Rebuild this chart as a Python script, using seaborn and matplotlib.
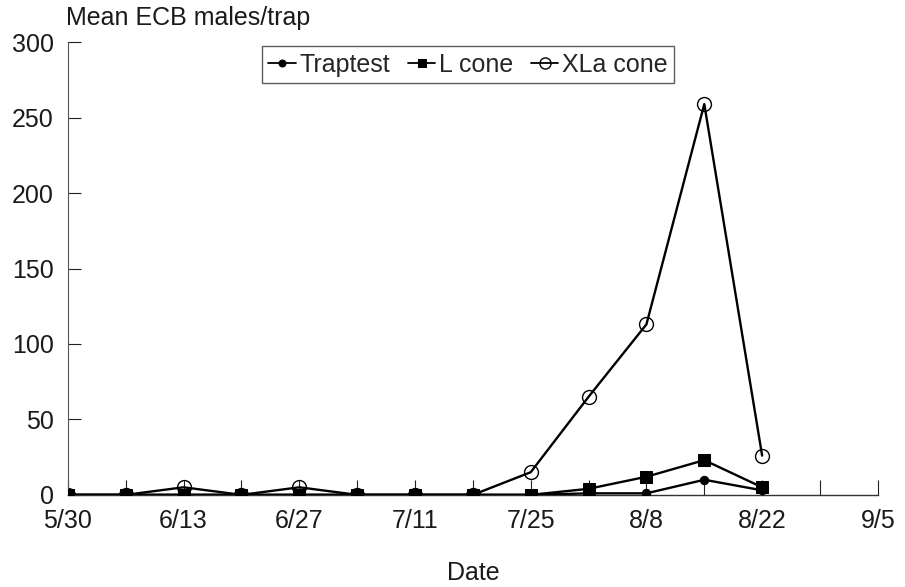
import matplotlib
matplotlib.use("Agg")
import matplotlib.pyplot as plt
import seaborn as sns
import pandas as pd

# ── Data ──
dates = ["5/30", "6/6", "6/13", "6/20", "6/27", "7/4", "7/11",
         "7/18", "7/25", "8/1", "8/8", "8/15", "8/22"]
traptest = [0, 0, 0, 0, 0, 0, 0, 0, 0, 1, 1, 10, 3]
l_cone   = [0, 0, 0, 0, 0, 0, 0, 0, 0, 4, 12, 23, 5]
xla_cone = [0, 0, 5, 0, 5, 0, 0, 0, 15, 65, 113, 259, 26]
tick_labels = ["5/30", "6/13", "6/27", "7/11", "7/25", "8/8", "8/22", "9/5"]
minor_extra = ["8/29", "9/5"]

to_dt = lambda s: pd.Timestamp(f"1990/{s}")
x = [to_dt(d) for d in dates]

sns.set_theme(style="ticks")
plt.rcParams["font.family"] = ["Liberation Sans", "DejaVu Sans"]

FS = 18
fig = plt.figure(figsize=(9.05, 5.87), dpi=100)
ax = fig.add_axes([0.075, 0.157, 0.895, 0.771])

lw = 1.7
sns.lineplot(x=x, y=traptest, ax=ax, color="black", lw=lw, marker="o",
             markersize=6, markeredgecolor="black", label="Traptest", zorder=3)
sns.lineplot(x=x, y=l_cone, ax=ax, color="black", lw=lw, marker="s",
             markersize=8, markeredgecolor="black", label="L cone", zorder=3)
sns.lineplot(x=x, y=xla_cone, ax=ax, color="black", lw=lw, marker="o",
             markersize=10, markerfacecolor="none", markeredgecolor="black",
             markeredgewidth=1.0, label="XLa cone", zorder=2)

ax.set_xlim(to_dt("5/30"), to_dt("9/5"))
ax.set_ylim(0, 300)
ax.set_yticks([0, 50, 100, 150, 200, 250, 300])
ax.set_xticks([to_dt(t) for t in tick_labels])
ax.set_xticklabels(tick_labels)
ax.set_xticks(x + [to_dt(d) for d in minor_extra], minor=True)

ax.tick_params(axis="both", which="both", direction="in", colors="#222222",
               labelsize=FS, width=0.8)
ax.tick_params(axis="x", which="both", length=11, pad=10)
ax.tick_params(axis="y", which="major", length=9, pad=10)
for lab in ax.get_xticklabels() + ax.get_yticklabels():
    lab.set_color("#1a1a1a")

sns.despine(ax=ax)
ax.spines["left"].set_color("#555555")
ax.spines["bottom"].set_color("#333333")
ax.spines["bottom"].set_linewidth(1.0)
ax.spines["left"].set_linewidth(0.8)

ax.set_xlabel("Date", fontsize=FS, color="#1a1a1a", labelpad=20)
ax.set_ylabel("")
fig.text(0.073, 0.969, "Mean ECB males/trap", fontsize=FS, color="#1a1a1a",
         ha="left", va="center")

leg = ax.legend(loc="upper center", bbox_to_anchor=(0.494, 0.991), ncol=3,
                frameon=True, fancybox=False, fontsize=FS, handlelength=1.1,
                handletextpad=0.15, columnspacing=0.7, borderpad=0.25,
                borderaxespad=0.0)
leg.get_frame().set_edgecolor("#333333")
leg.get_frame().set_linewidth(1.0)
for h, ms in zip(leg.legend_handles, [5, 6, 8]):
    h.set_markersize(ms)
    h.set_linewidth(1.3)

fig.savefig("out.png", dpi=100)
